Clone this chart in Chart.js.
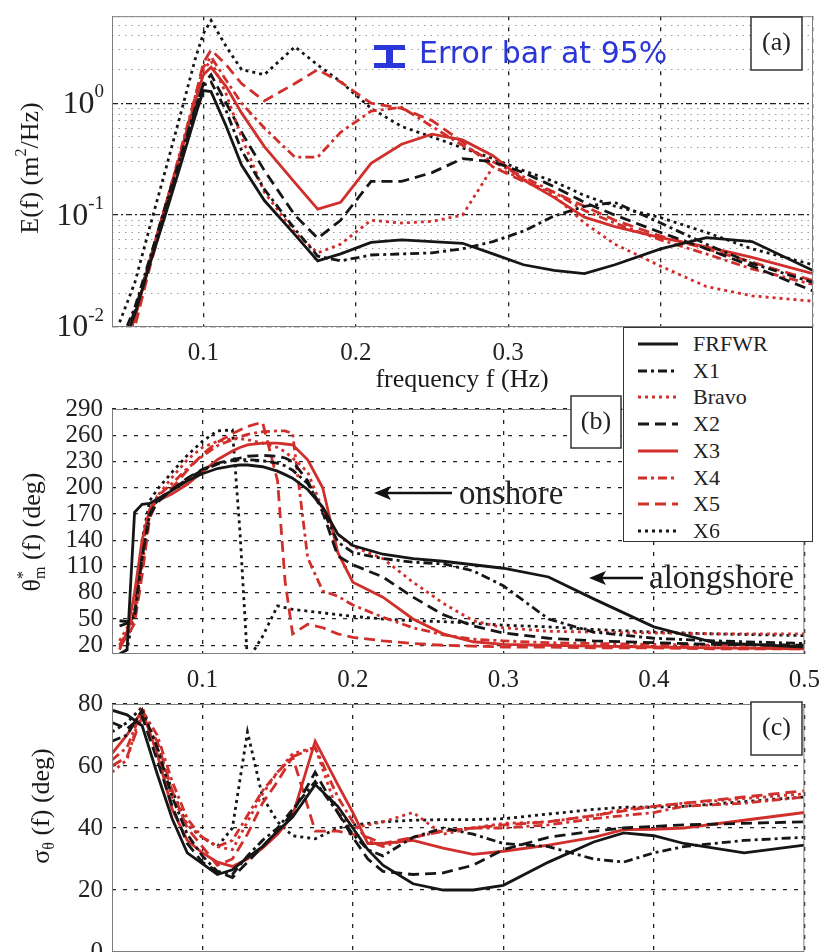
<!DOCTYPE html>
<html lang="en">
<head>
<meta charset="UTF-8">
<title>Frequency spectra, mean direction and spread</title>
<script src="https://cdn.jsdelivr.net/npm/chart.js"></script>
<style>
  body { margin: 0; width: 831px; height: 952px; overflow: hidden; position: relative; background: #fff; }
  canvas { position: absolute; left: 0; }
  #legend { position: absolute; left: 623px; top: 327px; width: 188px; height: 213px;
            border: 1.5px solid #333; background: #fff; font-family: "Liberation Serif", serif; }
  #legend .row { position: absolute; left: 0; height: 24px; width: 188px; }
  #legend svg { position: absolute; left: 12px; top: 0; }
  #legend span { position: absolute; left: 69px; top: 0; font-size: 22px; line-height: 24px; color: #222; }
</style>
</head>
<body>
<canvas id="chartA" width="831" height="392" style="top:0"></canvas>
<canvas id="chartB" width="831" height="320" style="top:385px"></canvas>
<canvas id="chartC" width="831" height="320" style="top:680px"></canvas>
<div id="legend"></div>
<script>
// ---- data ----
const seriesNames = ['FRFWR', 'X1', 'Bravo', 'X2', 'X3', 'X4', 'X5', 'X6'];
const xTicks = [0.1, 0.2, 0.3, 0.4, 0.5];
const xTicksA = [0.1, 0.2, 0.3];          // 0.4 and 0.5 sit under the legend
const thetaTicks = [20, 50, 80, 110, 140, 170, 200, 230, 260, 290];
const sigmaTicks = [0, 20, 40, 60, 80];
const decades = [0.01, 0.1, 1];

// (a) energy spectrum E(f)
const freqA = [0.045, 0.055, 0.065, 0.075, 0.085, 0.095, 0.1, 0.105, 0.115, 0.125, 0.14, 0.16, 0.175, 0.19,
               0.21, 0.23, 0.25, 0.27, 0.29, 0.31, 0.33, 0.35, 0.37, 0.4, 0.43, 0.46, 0.5];
const eFRFWR = [0.006, 0.013, 0.037, 0.10, 0.28, 0.80, 1.30, 1.27, 0.62, 0.28, 0.135, 0.067, 0.039, 0.045,
                0.057, 0.060, 0.058, 0.056, 0.045, 0.036, 0.032, 0.030, 0.036, 0.050, 0.063, 0.058, 0.032];
const eX1    = [0.007, 0.015, 0.042, 0.12, 0.33, 0.95, 1.45, 1.55, 0.85, 0.38, 0.17, 0.075, 0.043, 0.039,
                0.044, 0.045, 0.046, 0.050, 0.058, 0.072, 0.098, 0.12, 0.13, 0.085, 0.055, 0.037, 0.025];
const eBravo = [0.005, 0.012, 0.04, 0.12, 0.36, 1.1, 2.0, 2.4, 1.2, 0.5, 0.16, 0.07, 0.046, 0.055,
                0.09, 0.085, 0.088, 0.10, 0.27, 0.21, 0.15, 0.085, 0.055, 0.035, 0.023, 0.019, 0.017];
const eX2    = [0.006, 0.014, 0.04, 0.11, 0.32, 0.9, 1.5, 1.8, 1.0, 0.55, 0.25, 0.10, 0.062, 0.09,
                0.20, 0.20, 0.24, 0.32, 0.30, 0.24, 0.18, 0.13, 0.10, 0.07, 0.05, 0.035, 0.021];
const eX3    = [0.005, 0.012, 0.04, 0.12, 0.35, 1.1, 1.8, 2.1, 1.4, 0.82, 0.41, 0.195, 0.113, 0.13,
                0.29, 0.43, 0.53, 0.47, 0.34, 0.207, 0.144, 0.096, 0.079, 0.063, 0.052, 0.042, 0.030];
const eX4    = [0.005, 0.012, 0.04, 0.12, 0.38, 1.2, 2.1, 2.6, 1.6, 1.0, 0.6, 0.33, 0.33, 0.55,
                0.85, 0.92, 0.62, 0.42, 0.30, 0.22, 0.16, 0.11, 0.085, 0.06, 0.045, 0.033, 0.024];
const eX5    = [0.004, 0.010, 0.035, 0.11, 0.35, 1.2, 2.3, 3.0, 2.2, 1.5, 1.05, 1.5, 2.0, 1.55,
                1.0, 0.9, 0.7, 0.45, 0.27, 0.2, 0.16, 0.12, 0.09, 0.065, 0.05, 0.038, 0.026];
const eX6    = [0.011, 0.025, 0.08, 0.25, 0.8, 2.6, 4.2, 5.5, 3.2, 2.0, 1.8, 3.2, 2.2, 1.56,
                0.9, 0.62, 0.5, 0.4, 0.32, 0.25, 0.2, 0.15, 0.12, 0.095, 0.07, 0.05, 0.036];

// (b) mean direction theta_m*(f)
const freqB = [0.045, 0.05, 0.055, 0.06, 0.065, 0.07, 0.08, 0.09, 0.1, 0.11, 0.12, 0.125, 0.13, 0.14, 0.15,
               0.155, 0.16, 0.17, 0.18, 0.19, 0.2, 0.22, 0.24, 0.26, 0.28, 0.3, 0.33, 0.36, 0.4, 0.44, 0.5];
const thFRFWR = [10, 15, 172, 181, 182, 187, 197, 208, 216, 222, 225, 226, 226, 224, 219,
                 215, 211, 198, 178, 147, 134, 124, 119, 116, 112, 108, 98, 73, 41, 23, 18];
const thX1    = [48, 47, 52, 120, 170, 185, 198, 210, 220, 227, 231, 232, 232, 231, 228,
                 225, 220, 205, 175, 138, 126, 119, 115, 113, 105, 88, 50, 35, 28, 25, 22];
const thBravo = [25, 40, 50, 110, 170, 190, 212, 232, 246, 253, 256, 256, 255, 251, 246,
                 241, 234, 218, 175, 147, 133, 119, 92, 68, 48, 40, 36, 35, 34, 33, 33];
const thX2    = [42, 45, 55, 120, 168, 183, 198, 211, 221, 228, 232, 234, 236, 237, 236,
                 234, 230, 208, 172, 122, 112, 98, 75, 55, 42, 34, 28, 25, 23, 21, 20];
const thX3    = [15, 35, 80, 140, 175, 185, 193, 204, 218, 232, 242, 246, 249, 251, 251,
                 250, 249, 232, 200, 126, 92, 75, 50, 33, 24, 21, 20, 19, 18, 17, 16];
const thX4    = [20, 35, 60, 130, 175, 190, 205, 222, 236, 248, 255, 258, 261, 264, 265,
                 265, 262, 120, 82, 76, 66, 52, 40, 32, 27, 25, 23, 22, 21, 20, 20];
const thX5    = [18, 30, 45, 100, 165, 185, 200, 220, 238, 252, 262, 266, 270, 275, 208,
                 93, 33, 44, 40, 33, 29, 25, 22, 20, 19, 18, 18, 17, 17, 16, 16];
const thX6    = [8, 15, 60, 140, 185, 198, 218, 237, 253, 265, 266, 150, 2, 30, 65,
                 63, 61, 59, 57, 55, 53, 50, 48, 47, 45, 43, 41, 38, 35, 33, 31];

// (c) directional spread sigma_theta(f)
const freqC = [0.04, 0.05, 0.06, 0.07, 0.08, 0.09, 0.1, 0.11, 0.12, 0.13, 0.14, 0.15, 0.16, 0.175, 0.19,
               0.2, 0.21, 0.22, 0.24, 0.26, 0.28, 0.3, 0.33, 0.36, 0.38, 0.4, 0.42, 0.46, 0.5];
const sdFRFWR = [78, 76.5, 73, 57.5, 43, 32, 28.5, 25, 26.5, 30.5, 34, 39, 43.5, 54, 47,
                 40, 33, 28, 22, 20, 20, 21.5, 29, 35.5, 38.4, 37.5, 35, 32, 34.5];
const sdX1    = [68, 70, 78, 66, 50, 38, 31, 26, 25, 31, 36, 40, 46, 55, 45,
                 38, 33, 31, 37, 40, 38, 35, 34, 30, 29, 32, 34, 36, 37];
const sdBravo = [58, 62, 79, 64, 50, 41, 37, 34, 33, 42, 51, 58, 64, 66, 45,
                 40, 41, 42, 45, 38, 40, 41.5, 42, 44, 46, 47, 48, 49.5, 51];
const sdX2    = [74, 72, 76, 62, 47, 35, 29, 26, 24, 29, 34, 39, 45, 58, 45,
                 37, 30, 26, 25, 25.5, 28, 33, 37, 39, 40, 40.5, 41, 41.5, 42];
const sdX3    = [64, 70, 78, 64, 46, 36, 32, 29, 27.6, 30, 33.5, 38, 44, 68, 54,
                 45, 35, 35, 36, 33.5, 31.5, 32.5, 34.5, 37, 39.5, 39.6, 40, 42.5, 45];
const sdX4    = [62, 66, 78, 70, 55, 43, 37, 34, 36, 44, 52, 58, 63, 66, 50,
                 42, 36, 34, 37, 39, 40, 40, 41, 43, 44, 45, 47, 48, 50];
const sdX5    = [60, 63, 76, 68, 52, 40, 34, 28, 30, 38, 48, 55, 63, 39, 39,
                 38, 37, 35, 37, 39, 40, 41, 42, 44, 45.5, 47, 48, 50, 52];
const sdX6    = [71, 74, 79, 66, 52, 41, 37, 34, 40, 71, 50, 42, 37.5, 36.5, 40,
                 41, 41.5, 42, 42.5, 42.7, 42.7, 43, 44.5, 46, 46.7, 46.7, 47, 48.5, 50];

// ---- styling ----
const SERIF = '"Liberation Serif", "Times New Roman", serif';
const BLACK = '#161616';
const RED = '#d12f2b';
const lineStyle = {
  FRFWR: { color: BLACK, dash: [] },
  X1:    { color: BLACK, dash: [9, 4, 3, 4] },
  Bravo: { color: RED,   dash: [3, 4] },
  X2:    { color: BLACK, dash: [11, 6] },
  X3:    { color: RED,   dash: [] },
  X4:    { color: RED,   dash: [9, 4, 3, 4] },
  X5:    { color: RED,   dash: [11, 6] },
  X6:    { color: BLACK, dash: [3, 4] }
};

function makeDatasets(freq, table) {
  return seriesNames.map(name => ({
    label: name,
    data: freq.map((f, i) => ({ x: f, y: table[name][i] })),
    borderColor: lineStyle[name].color,
    borderDash: lineStyle[name].dash,
    borderWidth: 2.8,
    borderCapStyle: 'butt',
    pointRadius: 0,
    tension: 0,
    fill: false
  }));
}

function richText(ctx, parts, cx, cy, rot, size) {
  ctx.save();
  ctx.translate(cx, cy);
  ctx.rotate(rot);
  ctx.fillStyle = '#1a1a1a';
  ctx.textBaseline = 'middle';
  ctx.textAlign = 'left';
  const items = parts.map(p => {
    const s = (p.sup || p.sub) ? size * 0.62 : size;
    ctx.font = s + 'px ' + SERIF;
    return { p, s, w: ctx.measureText(p.t).width };
  });
  let total = 0, held = 0;
  items.forEach(it => {
    if (it.p.stack) { held = Math.max(held, it.w); return; }
    total += Math.max(it.w, held); held = 0;
  });
  let x = -total / 2; held = 0;
  items.forEach(it => {
    ctx.font = it.s + 'px ' + SERIF;
    const dy = it.p.sup ? -size * 0.36 : it.p.sub ? size * 0.3 : 0;
    ctx.fillText(it.p.t, x, dy);
    if (it.p.stack) { held = Math.max(held, it.w); return; }
    x += Math.max(it.w, held); held = 0;
  });
  ctx.restore();
}

function frame(chart) {
  const a = chart.chartArea, ctx = chart.ctx;
  ctx.save();
  ctx.strokeStyle = '#7d7d7d';
  ctx.lineWidth = 1;
  ctx.setLineDash([]);
  ctx.strokeRect(a.left + 0.5, a.top + 0.5, a.right - a.left - 1, a.bottom - a.top - 1);
  ctx.restore();
}

function labelBox(ctx, text, x0, y0, x1, y1) {
  ctx.save();
  ctx.fillStyle = '#fff';
  ctx.fillRect(x0, y0, x1 - x0, y1 - y0);
  ctx.strokeStyle = '#333';
  ctx.lineWidth = 1.5;
  ctx.setLineDash([]);
  ctx.strokeRect(x0, y0, x1 - x0, y1 - y0);
  ctx.fillStyle = '#222';
  ctx.font = '26px ' + SERIF;
  ctx.textAlign = 'center';
  ctx.textBaseline = 'middle';
  ctx.fillText(text, (x0 + x1) / 2, (y0 + y1) / 2);
  ctx.restore();
}

function arrowText(ctx, x0, x1, y, text, tx, ty) {
  ctx.save();
  ctx.strokeStyle = '#111';
  ctx.fillStyle = '#111';
  ctx.lineWidth = 2.5;
  ctx.setLineDash([]);
  ctx.beginPath();
  ctx.moveTo(x1, y);
  ctx.lineTo(x0 + 10, y);
  ctx.stroke();
  ctx.beginPath();
  ctx.moveTo(x0, y);
  ctx.lineTo(x0 + 17, y - 7);
  ctx.lineTo(x0 + 13, y);
  ctx.lineTo(x0 + 17, y + 7);
  ctx.closePath();
  ctx.fill();
  ctx.font = '33px ' + SERIF;
  ctx.textBaseline = 'alphabetic';
  ctx.textAlign = 'left';
  ctx.fillStyle = '#222';
  ctx.fillText(text, tx, ty);
  ctx.restore();
}

function xScale(height, labelled) {
  return {
    type: 'linear', min: 0.04, max: 0.5,
    afterBuildTicks: s => { s.ticks = xTicks.map(v => ({ value: v })); },
    afterFit: s => { s.height = height; },
    grid: { color: '#222', lineWidth: 1.3, drawTicks: false },
    border: { display: false, dash: [4, 7] },
    ticks: { padding: 11, maxRotation: 0, autoSkip: false, color: '#222',
             font: { family: SERIF, size: 25 },
             callback: v => labelled.some(t => Math.abs(t - v) < 1e-9) ? v.toFixed(1) : '' }
  };
}

function linearY(min, max, ticks) {
  return {
    type: 'linear', min: min, max: max,
    afterBuildTicks: s => { s.ticks = ticks.map(v => ({ value: v })); },
    afterFit: s => { s.width = 112; },
    grid: { color: '#222', lineWidth: 1.3, drawTicks: false },
    border: { display: false, dash: [4, 7] },
    ticks: { padding: 9, autoSkip: false, color: '#222', font: { family: SERIF, size: 25 } }
  };
}

function baseOptions(padTop, xs, ys) {
  return {
    responsive: false, animation: false, devicePixelRatio: 1,
    layout: { padding: { top: padTop, right: 18, left: 0, bottom: 0 } },
    plugins: { legend: { display: false }, tooltip: { enabled: false } },
    scales: { x: xs, y: ys }
  };
}

// ---- (a) ----
const logGrid = [];
decades.forEach(d => { for (let k = 1; k <= 9; k++) if (d * k <= 6) logGrid.push(+(d * k).toPrecision(3)); });
const isDecade = v => decades.some(d => Math.abs(d - v) < 1e-9);

const tableA = { FRFWR: eFRFWR, X1: eX1, Bravo: eBravo, X2: eX2, X3: eX3, X4: eX4, X5: eX5, X6: eX6 };
new Chart(document.getElementById('chartA'), {
  type: 'line',
  data: { datasets: makeDatasets(freqA, tableA) },
  options: baseOptions(10, xScale(65, xTicksA), {
    type: 'logarithmic', min: 0.01, max: 6,
    afterBuildTicks: s => { s.ticks = logGrid.map(v => ({ value: v })); },
    afterFit: s => { s.width = 112; },
    grid: {
      drawTicks: false,
      color: c => (c.tick && isDecade(c.tick.value)) ? '#222' : '#9a9a9a',
      lineWidth: c => (c.tick && isDecade(c.tick.value)) ? 1.3 : 1
    },
    border: { display: false, dash: c => (c.tick && isDecade(c.tick.value)) ? [6, 3, 2, 3] : [1.5, 5] },
    ticks: { callback: () => '', padding: 9, autoSkip: false }
  }),
  plugins: [{
    id: 'decorA',
    afterDraw(chart) {
      const ctx = chart.ctx, y = chart.scales.y;
      frame(chart);
      ctx.save();
      ctx.fillStyle = '#222';
      ctx.textBaseline = 'middle';
      decades.forEach(v => {
        const py = y.getPixelForValue(v);
        const exp = String(Math.round(Math.log10(v)));
        ctx.font = '19px ' + SERIF;
        const ew = ctx.measureText(exp).width;
        ctx.textAlign = 'left';
        ctx.fillText(exp, 104 - ew, py - 11);
        ctx.font = '32px ' + SERIF;
        ctx.textAlign = 'right';
        ctx.fillText('10', 104 - ew, py + 1);
      });
      ctx.restore();
      richText(ctx, [{ t: 'E(f) (m' }, { t: '2', sup: true }, { t: '/Hz)' }], 31, 168, -Math.PI / 2, 26);
      richText(ctx, [{ t: 'frequency f (Hz)' }], 462, 380, 0, 26);
      labelBox(ctx, '(a)', 751, 17, 802, 70);
      // 95% error bar marker and caption
      ctx.save();
      ctx.fillStyle = '#2a36d8';
      ctx.fillRect(374, 45, 31, 5);
      ctx.fillRect(374, 63, 31, 5);
      ctx.fillRect(386, 50, 7, 13);
      ctx.font = '30px "DejaVu Sans", sans-serif';
      ctx.textBaseline = 'alphabetic';
      ctx.fillText('Error bar at 95%', 419, 63);
      ctx.restore();
    }
  }]
});

// ---- (b) ----
const tableB = { FRFWR: thFRFWR, X1: thX1, Bravo: thBravo, X2: thX2, X3: thX3, X4: thX4, X5: thX5, X6: thX6 };
const offB = 385;
new Chart(document.getElementById('chartB'), {
  type: 'line',
  data: { datasets: makeDatasets(freqB, tableB) },
  options: baseOptions(9, xScale(51, xTicks), linearY(10, 290, thetaTicks)),
  plugins: [{
    id: 'decorB',
    afterDraw(chart) {
      const ctx = chart.ctx;
      frame(chart);
      richText(ctx, [{ t: '\u03b8' }, { t: '*', sup: true, stack: true }, { t: 'm', sub: true }, { t: ' (f) (deg)' }],
               33, 532 - offB, -Math.PI / 2, 26);
      labelBox(ctx, '(b)', 571, 396 - offB, 621, 448 - offB);
      arrowText(ctx, 374, 452, 493 - offB, 'onshore', 459, 504 - offB);
      arrowText(ctx, 589, 643, 578 - offB, 'alongshore', 649, 588 - offB);
    }
  }]
});

// ---- (c) ----
const tableC = { FRFWR: sdFRFWR, X1: sdX1, Bravo: sdBravo, X2: sdX2, X3: sdX3, X4: sdX4, X5: sdX5, X6: sdX6 };
const offC = 680;
new Chart(document.getElementById('chartC'), {
  type: 'line',
  data: { datasets: makeDatasets(freqC, tableC) },
  options: baseOptions(12, xScale(48, xTicks), linearY(0, 80, sigmaTicks)),
  plugins: [{
    id: 'decorC',
    afterDraw(chart) {
      const ctx = chart.ctx;
      frame(chart);
      richText(ctx, [{ t: '\u03c3' }, { t: '\u03b8', sub: true }, { t: ' (f) (deg)' }],
               42, 806 - offC, -Math.PI / 2, 26);
      labelBox(ctx, '(c)', 751, 702 - offC, 802, 755 - offC);
    }
  }]
});

// ---- shared legend ----
const legend = document.getElementById('legend');
seriesNames.forEach((name, i) => {
  const row = document.createElement('div');
  row.className = 'row';
  row.style.top = (4 + i * 26.7) + 'px';
  const st = lineStyle[name];
  row.innerHTML = '<svg width="44" height="24"><line x1="2" y1="12" x2="42" y2="12" stroke="' + st.color +
    '" stroke-width="3.2" stroke-dasharray="' + (st.dash.length ? st.dash.join(' ') : 'none') + '"/></svg>' +
    '<span>' + name + '</span>';
  legend.appendChild(row);
});
</script>
</body>
</html>
